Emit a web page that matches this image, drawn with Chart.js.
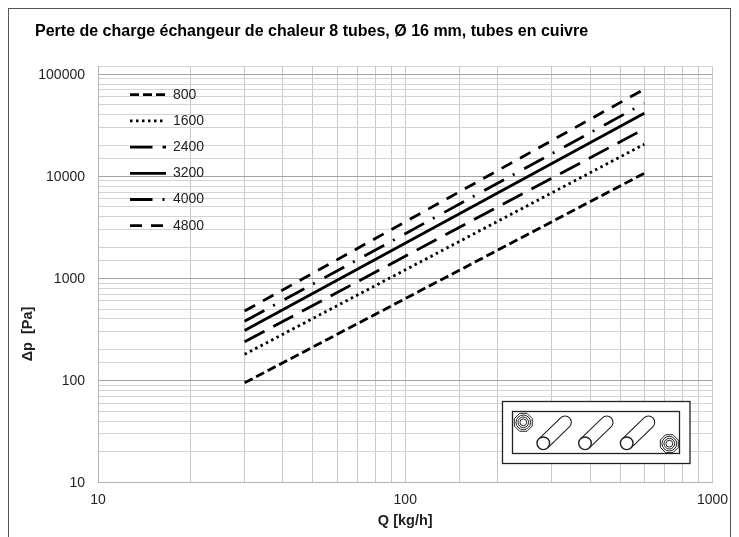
<!DOCTYPE html>
<html>
<head>
<meta charset="utf-8">
<script src="https://cdn.jsdelivr.net/npm/chart.js@4"></script>
<style>
html,body{margin:0;padding:0;background:#fff;overflow:hidden;width:739px;height:537px}
#wrap{position:absolute;left:0;top:0;width:739px;height:537px}
#frame{position:absolute;left:7.5px;top:8px;width:723.5px;height:560px;border:1.5px solid #555;box-sizing:border-box;pointer-events:none}
</style>
</head>
<body>
<div id="wrap"><canvas id="c" width="739" height="537"></canvas></div>
<div id="frame"></div>
<script>
const chartTitle = 'Perte de charge échangeur de chaleur 8 tubes, Ø 16 mm, tubes en cuivre';
const xTitle = 'Q [kg/h]';
const yTitle = 'Δp  [Pa]';
const flow = [30, 600];
const series800 = [94.7, 10700];
const series1600 = [180, 20600];
const series2400 = [239, 29100];
const series3200 = [309, 41500];
const series4000 = [379, 52000];
const series4800 = [478, 71300];
const seriesNames = ['800', '1600', '2400', '3200', '4000', '4800'];
const seriesValues = [series800, series1600, series2400, series3200, series4000, series4800];
const seriesDashes = [[9, 4], [2.5, 3.5], [22.5, 10], [], [22.5, 10, 2, 11], [12, 9]];

const FONT = '"Liberation Sans", Arial, Helvetica, sans-serif';
const INK = '#1f1f1f';
const LINE_W = 2.8;
const isDecade = v => Math.abs(Math.log10(v) - Math.round(Math.log10(v))) < 1e-9;

const extras = {
  id: 'extras',
  afterLayout(chart) {
    const l = chart.legend;
    const w = l.width, h = l.height;
    l.left = 117.8; l.top = 75.5; l.right = 117.8 + w; l.bottom = 75.5 + h;
  },
  afterDraw(chart) {
    const c = chart.ctx;
    c.save();
    c.translate(28, 334);
    c.rotate(-Math.PI / 2);
    c.font = 'bold 14.5px ' + FONT;
    c.fillStyle = INK;
    c.textAlign = 'center';
    c.textBaseline = 'middle';
    c.fillText(yTitle, 0, 0);
    c.restore();
    c.save();
    c.strokeStyle = '#222';
    c.fillStyle = '#fff';
    c.fillRect(502.5, 401.5, 187.5, 62);
    c.lineWidth = 1.3;
    c.strokeRect(502.5, 401.5, 187.5, 62);
    c.strokeRect(512.5, 411.5, 167, 42);
    const r = 6.3, dx = 21.7, dy = -21;
    const len = Math.hypot(dx, dy), nx = -dy / len * r, ny = dx / len * r;
    [0, 41.7, 83.4].forEach(s => {
      const x0 = 543.3 + s, y0 = 443.3;
      c.lineWidth = 1.1;
      c.beginPath();
      c.moveTo(x0 - nx, y0 - ny);
      c.lineTo(x0 - nx + dx, y0 - ny + dy);
      const a = Math.atan2(dy, dx);
      c.arc(x0 + dx, y0 + dy, r, a - Math.PI / 2, a + Math.PI / 2);
      c.lineTo(x0 + nx, y0 + ny);
      c.stroke();
      c.lineWidth = 1.4;
      c.beginPath();
      c.arc(x0, y0, r, 0, Math.PI * 2);
      c.fill();
      c.stroke();
    });
    [[523.3, 422.3], [669.3, 443.7]].forEach(([x, y]) => {
      c.lineWidth = 1;
      c.beginPath();
      for (let i = 0; i < 8; i++) {
        const a = Math.PI / 8 + i * Math.PI / 4;
        const px = x + 9.7 * Math.cos(a), py = y + 9.7 * Math.sin(a);
        i ? c.lineTo(px, py) : c.moveTo(px, py);
      }
      c.closePath();
      c.stroke();
      [7.3, 5.3, 3.4].forEach(q => { c.beginPath(); c.arc(x, y, q, 0, Math.PI * 2); c.stroke(); });
    });
    c.restore();
  }
};

new Chart(document.getElementById('c'), {
  type: 'line',
  data: {
    labels: flow,
    datasets: seriesNames.map((n, i) => ({
      label: n,
      data: flow.map((q, k) => ({ x: q, y: seriesValues[i][k] })),
      borderColor: '#000',
      backgroundColor: '#000',
      borderWidth: LINE_W,
      borderDash: seriesDashes[i],
      pointRadius: 0,
      tension: 0,
      fill: false
    }))
  },
  plugins: [extras],
  options: {
    responsive: false,
    animation: false,
    devicePixelRatio: 1,
    layout: { padding: { left: 35, right: 26.5, top: 0, bottom: 0 } },
    plugins: {
      tooltip: { enabled: false },
      title: {
        display: true,
        text: chartTitle,
        align: 'start',
        color: '#000',
        font: { family: FONT, size: 16, weight: 'bold' },
        padding: { top: 22, bottom: 25 }
      },
      legend: {
        position: 'chartArea',
        align: 'start',
        labels: {
          usePointStyle: true,
          pointStyle: 'line',
          pointStyleWidth: 36,
          boxHeight: 10,
          padding: 12.2,
          color: INK,
          font: { family: FONT, size: 14 },
          generateLabels(chart) {
            return chart.data.datasets.map((d, i) => ({
              text: d.label,
              datasetIndex: i,
              fillStyle: '#000',
              strokeStyle: '#000',
              fontColor: INK,
              lineWidth: LINE_W,
              lineDash: seriesDashes[i],
              lineDashOffset: 0,
              lineCap: 'butt',
              lineJoin: 'miter',
              pointStyle: 'line',
              hidden: false
            }));
          }
        }
      }
    },
    scales: {
      x: {
        type: 'logarithmic',
        min: 10,
        max: 1000,
        afterFit(s) { s.height = 54.5; },
        title: { display: true, text: xTitle, color: INK, padding: { top: 6, bottom: 7 }, font: { family: FONT, size: 14.5, weight: 'bold' } },
        border: { color: '#b5b5b5', width: 1 },
        grid: { color: '#c9c9c9', lineWidth: 1, drawTicks: false },
        ticks: {
          autoSkip: false, maxRotation: 0, color: INK, padding: 9,
          font: { family: FONT, size: 14 },
          callback: v => isDecade(v) ? String(v) : ''
        }
      },
      y: {
        type: 'logarithmic',
        min: 10,
        max: 119700,
        afterFit(s) { s.width = 63; },
        border: { color: '#b5b5b5', width: 1 },
        grid: {
          color: c => (c.tick && isDecade(c.tick.value)) ? '#a3a3a3' : '#d4d4d4',
          lineWidth: 1, drawTicks: false
        },
        ticks: {
          autoSkip: false, color: INK, padding: 13, labelOffset: 1,
          font: { family: FONT, size: 14 },
          callback: v => isDecade(v) ? String(v) : ''
        }
      }
    }
  }
});
</script>
</body>
</html>
